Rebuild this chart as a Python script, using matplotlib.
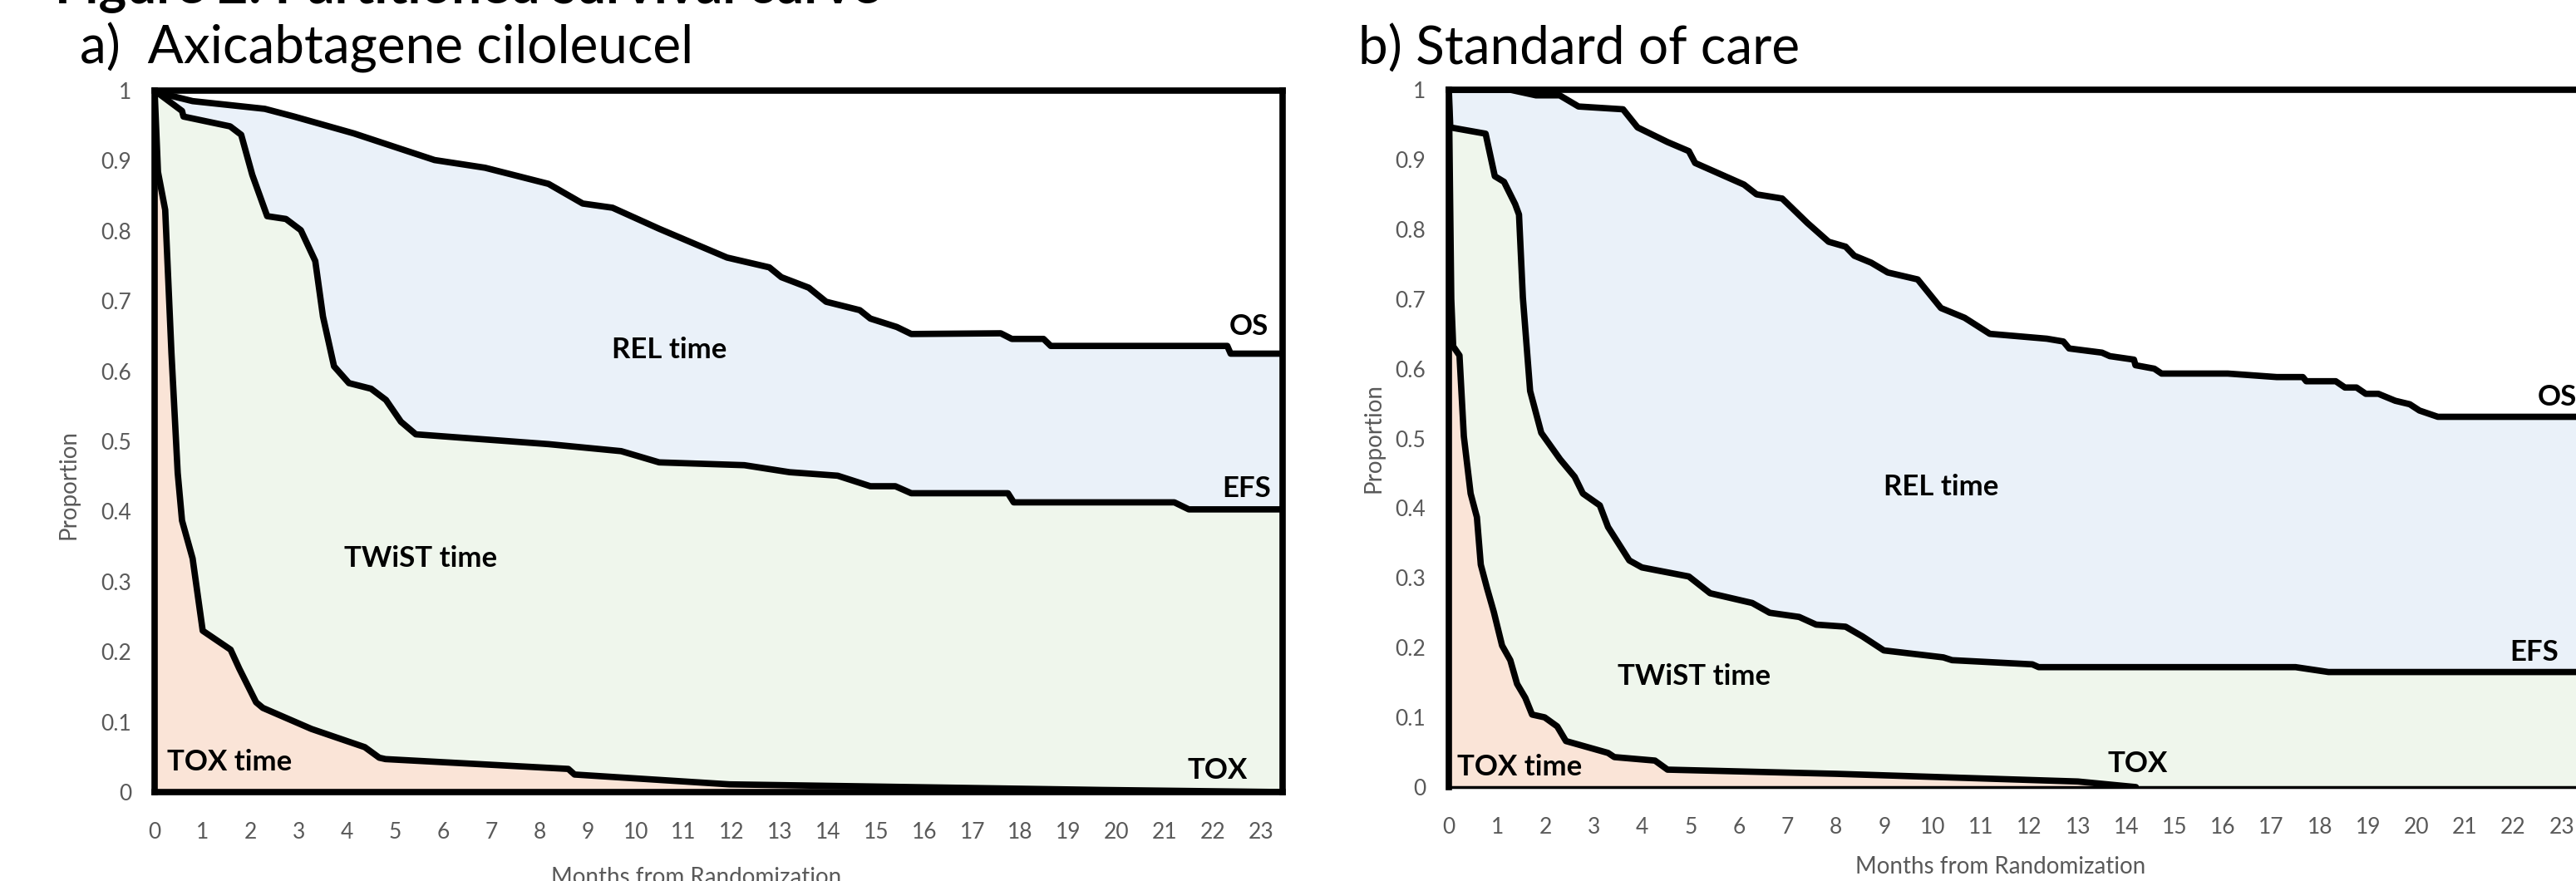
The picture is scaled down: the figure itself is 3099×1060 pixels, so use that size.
import matplotlib
matplotlib.use("Agg")
import matplotlib.pyplot as plt

plt.rcParams["font.family"] = ["Lato", "DejaVu Sans"]

# panel a) axicabtagene ciloleucel, months from randomization
axi_os_t = [0, 0.08, 0.79, 2.29, 2.9, 4.14, 5.2, 5.82, 6.87, 8.19, 8.9, 9.52, 10.49, 11.9, 12.78, 13.03,
            13.6, 13.96, 14.66, 14.88, 15.43, 15.73, 17.59, 17.82, 18.48, 18.63, 22.3, 22.37, 23.45]
axi_os = [1.0, 0.997, 0.985, 0.974, 0.963, 0.939, 0.915, 0.901, 0.890, 0.867, 0.839, 0.833, 0.803, 0.762,
          0.748, 0.734, 0.719, 0.699, 0.687, 0.675, 0.663, 0.653, 0.654, 0.646, 0.646, 0.636, 0.636, 0.625, 0.625]
axi_efs_t = [0, 0.10, 0.57, 0.6, 1.57, 1.8, 2.03, 2.34, 2.73, 3.04, 3.34, 3.5, 3.73, 4.04, 4.5, 4.81, 5.12,
             5.43, 8.19, 9.7, 10.49, 12.26, 13.2, 14.2, 14.88, 15.4, 15.73, 17.74, 17.86, 21.2, 21.5, 23.45]
axi_efs = [1.0, 0.995, 0.971, 0.963, 0.949, 0.937, 0.880, 0.821, 0.817, 0.801, 0.757, 0.678, 0.607, 0.583,
           0.575, 0.559, 0.528, 0.510, 0.496, 0.486, 0.470, 0.466, 0.456, 0.451, 0.436, 0.436, 0.426, 0.426,
           0.413, 0.413, 0.403, 0.403]
axi_tox_t = [0, 0.07, 0.22, 0.35, 0.48, 0.57, 0.79, 1.0, 1.58, 1.76, 2.11, 2.25, 3.26, 4.37, 4.67, 4.8,
             8.6, 8.73, 11.95, 19.7, 23.45]
axi_tox = [1.0, 0.884, 0.83, 0.626, 0.455, 0.387, 0.333, 0.230, 0.203, 0.176, 0.128, 0.12, 0.09, 0.064,
           0.049, 0.047, 0.033, 0.025, 0.011, 0.003, 0.0]

# panel b) standard of care
soc_os_t = [0, 1.27, 1.8, 2.29, 2.68, 3.6, 3.9, 4.52, 4.96, 5.09, 6.1, 6.36, 6.89, 7.41, 7.85, 8.2, 8.38,
            8.73, 9.07, 9.69, 10.17, 10.66, 11.18, 12.36, 12.7, 12.82, 13.5, 13.66, 14.16, 14.19, 14.58,
            14.73, 16.1, 17.11, 17.65, 17.72, 18.33, 18.52, 18.76, 18.95, 19.21, 19.56, 19.86, 20.06,
            20.44, 23.45]
soc_os = [1.0, 1.0, 0.992, 0.992, 0.976, 0.972, 0.946, 0.925, 0.912, 0.895, 0.864, 0.850, 0.844, 0.809,
          0.782, 0.775, 0.762, 0.752, 0.738, 0.728, 0.687, 0.673, 0.650, 0.643, 0.639, 0.629, 0.623, 0.618,
          0.613, 0.605, 0.600, 0.593, 0.593, 0.588, 0.588, 0.582, 0.582, 0.573, 0.573, 0.564, 0.564,
          0.554, 0.549, 0.540, 0.531, 0.531]
soc_efs_t = [0, 0.03, 0.76, 0.95, 1.14, 1.37, 1.45, 1.53, 1.68, 1.91, 2.3, 2.6, 2.77, 3.12, 3.29, 3.73,
             3.99, 4.96, 5.4, 6.27, 6.63, 7.24, 7.59, 8.2, 8.55, 8.99, 10.22, 10.4, 12.06, 12.19, 17.5,
             18.18, 23.45]
soc_efs = [1.0, 0.946, 0.937, 0.876, 0.868, 0.836, 0.821, 0.702, 0.568, 0.508, 0.47, 0.445, 0.421, 0.404,
           0.373, 0.325, 0.315, 0.302, 0.278, 0.264, 0.250, 0.244, 0.233, 0.230, 0.216, 0.196, 0.186,
           0.182, 0.176, 0.172, 0.172, 0.165, 0.165]
soc_tox_t = [0, 0.05, 0.09, 0.22, 0.31, 0.45, 0.58, 0.66, 0.79, 0.93, 1.1, 1.27, 1.41, 1.58, 1.72, 1.98,
             2.24, 2.42, 3.29, 3.42, 4.26, 4.52, 8.02, 13.0, 14.2]
soc_tox = [1.0, 0.70, 0.632, 0.619, 0.503, 0.421, 0.387, 0.319, 0.285, 0.251, 0.203, 0.182, 0.148, 0.128,
           0.104, 0.100, 0.087, 0.066, 0.049, 0.043, 0.038, 0.025, 0.019, 0.008, 0.0]

month_ticks = list(range(24))
prop_ticks = [0, 0.1, 0.2, 0.3, 0.4, 0.5, 0.6, 0.7, 0.8, 0.9, 1]
prop_labels = ["0", "0.1", "0.2", "0.3", "0.4", "0.5", "0.6", "0.7", "0.8", "0.9", "1"]

col_rel = "#EAF1F9"
col_twist = "#EFF6EC"
col_tox = "#FAE4D7"
col_tick = "#595959"

W, H = 3099, 1060
fig = plt.figure(figsize=(W / 100, H / 100), dpi=100)


def draw_panel(rect, os_t, os_v, efs_t, efs_v, tox_t, tox_v, labels):
	ax = fig.add_axes(rect)
	ax.fill_between(os_t, 0, os_v, color=col_rel, lw=0)
	ax.fill_between(efs_t, 0, efs_v, color=col_twist, lw=0)
	ax.fill_between(tox_t, 0, tox_v, color=col_tox, lw=0)
	for t, v in [(os_t, os_v), (efs_t, efs_v), (tox_t, tox_v)]:
		ax.plot(t, v, color="black", lw=5.5, solid_joinstyle="round", solid_capstyle="round", zorder=3)
	ax.set_xlim(0, 23.45)
	ax.set_ylim(0, 1)
	ax.set_xticks(month_ticks)
	ax.set_yticks(prop_ticks)
	ax.set_yticklabels(prop_labels)
	ax.tick_params(length=0, labelsize=19, labelcolor=col_tick)
	ax.tick_params(axis="y", pad=20)
	ax.tick_params(axis="x", pad=26)
	for s in ax.spines.values():
		s.set_linewidth(5.5)
		s.set_color("black")
		s.set_zorder(4)
	for txt, x, y in labels:
		ha = "left" if txt == "TOX time" else "center"
		ax.text(x, y, txt, ha=ha, va="center", fontsize=25, fontweight="bold", zorder=5)
	return ax


ax_a = draw_panel((186 / W, 1 - 953 / H, 1357 / W, 844 / H),
	axi_os_t, axi_os, axi_efs_t, axi_efs, axi_tox_t, axi_tox,
	[("REL time", 10.7, 0.63), ("TWiST time", 5.53, 0.333), ("TOX time", 0.26, 0.043),
	 ("OS", 22.74, 0.663), ("EFS", 22.7, 0.432), ("TOX", 22.1, 0.031)])

ax_b = draw_panel((1743 / W, 1 - 947 / H, 1365 / W, 839 / H),
	soc_os_t, soc_os, soc_efs_t, soc_efs, soc_tox_t, soc_tox,
	[("REL time", 10.17, 0.43), ("TWiST time", 5.07, 0.159), ("TOX time", 0.18, 0.029),
	 ("OS", 22.9, 0.559), ("EFS", 22.43, 0.193), ("TOX", 14.23, 0.033)])
ax_b.spines["bottom"].set_linewidth(2.5)

# titles and axis labels
fig.text(66 / W, 1 - 3 / H, "Figure 2: Partitioned survival curve", fontsize=46, fontweight="bold",
	ha="left", va="baseline")
fig.text(96 / W, 1 - 77 / H, "a)  Axicabtagene ciloleucel", fontsize=46, ha="left", va="baseline")
fig.text(1634 / W, 1 - 78 / H, "b) Standard of care", fontsize=46, ha="left", va="baseline")
fig.text(83 / W, 1 - 583 / H, "Proportion", fontsize=20, color=col_tick, rotation=90, ha="center", va="center")
fig.text(1652 / W, 1 - 527 / H, "Proportion", fontsize=20, color=col_tick, rotation=90, ha="center", va="center")
fig.text(838 / W, 1 - 1056 / H, "Months from Randomization", fontsize=20, color=col_tick, ha="center", va="center")
fig.text(2407 / W, 1 - 1043 / H, "Months from Randomization", fontsize=20, color=col_tick, ha="center", va="center")

fig.savefig("out.png", dpi=100)
